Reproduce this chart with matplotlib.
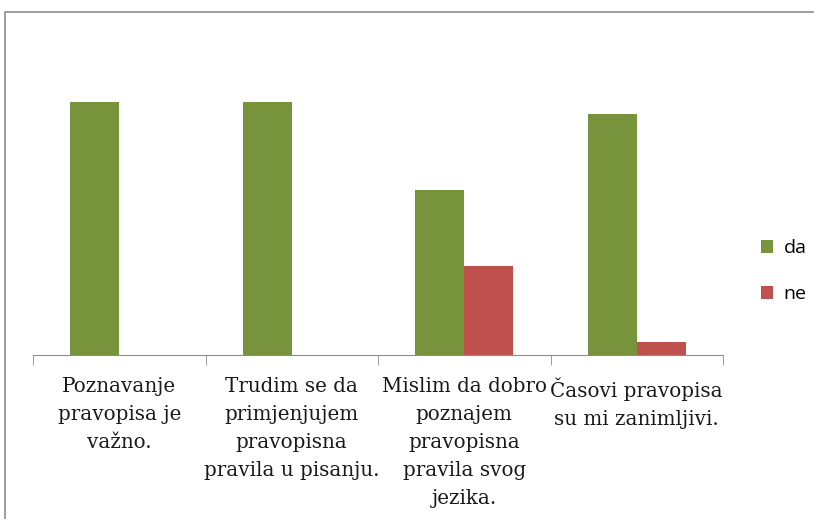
import matplotlib.pyplot as plt
import matplotlib.patches as mpatches
import numpy as np

# survey answers per statement
categories = [
    "Poznavanje\npravopisa je\nvažno.",
    "Trudim se da\nprimjenjujem\npravopisna\npravila u pisanju.",
    "Mislim da dobro\npoznajem\npravopisna\npravila svog\njezika.",
    "Časovi pravopisa\nsu mi zanimljivi.",
]
da = [100, 100, 65, 95]
ne = [0, 0, 35, 5]

W, H = 814, 519
fig = plt.figure(figsize=(W / 100, H / 100), dpi=100)

# chart frame, cut off on the right and bottom
fig.patches.append(mpatches.Rectangle((5 / W, -0.05), 1.1, 1 - 12 / H + 0.05,
                                      transform=fig.transFigure, fill=False,
                                      edgecolor="#8c8c8c", linewidth=1.2))

ax = fig.add_axes([33 / W, (H - 355) / H, 690 / W, 304 / H])

x = np.arange(len(categories))
w = 0.284
ax.bar(x - w / 2, da, w, color="#77933C", label="da")
ax.bar(x + w / 2, ne, w, color="#C0504D", label="ne")

ax.set_xlim(-0.5, len(categories) - 0.5)
ax.set_ylim(0, 120)
ax.set_yticks([])
for s in ["top", "right", "left"]:
    ax.spines[s].set_visible(False)
ax.spines["bottom"].set_color("#8c8c8c")

ax.set_xticks(x)
ax.set_xticklabels(categories, fontfamily="DejaVu Serif", fontsize=14.3,
                   linespacing=1.6, color="#1a1a1a", va="top")
ax.tick_params(axis="x", which="major", length=0, pad=16)
ax.set_xticks(np.arange(-0.5, len(categories)), minor=True)
ax.tick_params(axis="x", which="minor", length=7, color="#8c8c8c")

ax.legend(loc="center left", bbox_to_anchor=(1.03, 0.275), frameon=False,
          handlelength=0.6, handleheight=0.6, handletextpad=0.55,
          labelspacing=1.45, prop={"family": "Open Sans", "size": 14})

fig.savefig("out.png", dpi=100)
